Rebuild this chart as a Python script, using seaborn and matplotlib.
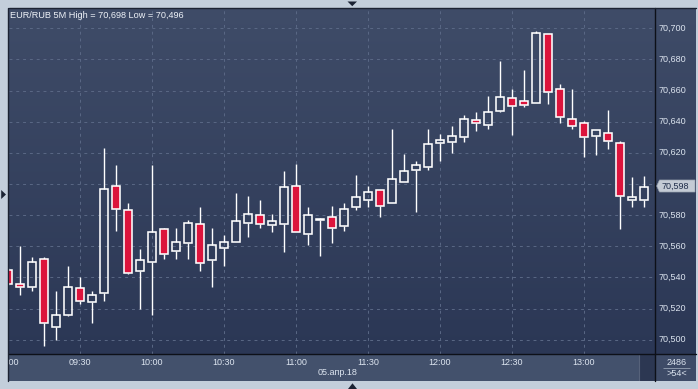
import numpy as np
import pandas as pd
import matplotlib
matplotlib.use("Agg")
import matplotlib.pyplot as plt
import seaborn as sns
from matplotlib.patches import Polygon, Rectangle
from matplotlib.colors import LinearSegmentedColormap
from matplotlib.transforms import blended_transform_factory

# ---------------- data (EUR/RUB, 5-minute candles, 05.04.2018) ----------------
opens = [70.545, 70.536, 70.534, 70.552, 70.508, 70.516, 70.533, 70.524, 70.530, 70.599,
         70.583, 70.544, 70.550, 70.571, 70.557, 70.562, 70.574, 70.551, 70.559, 70.563,
         70.575, 70.580, 70.5735, 70.574, 70.599, 70.568, 70.577, 70.579, 70.573, 70.585,
         70.590, 70.596, 70.588, 70.601, 70.609, 70.611, 70.626, 70.627, 70.630, 70.641,
         70.638, 70.647, 70.655, 70.653, 70.652, 70.696, 70.661, 70.642, 70.639, 70.631,
         70.633, 70.626, 70.590, 70.590]
highs = [70.546, 70.560, 70.553, 70.553, 70.531, 70.547, 70.540, 70.531, 70.623, 70.612,
         70.588, 70.558, 70.612, 70.572, 70.572, 70.577, 70.585, 70.572, 70.567, 70.594,
         70.592, 70.590, 70.581, 70.608, 70.613, 70.585, 70.578, 70.586, 70.588, 70.606,
         70.599, 70.596, 70.635, 70.619, 70.615, 70.635, 70.632, 70.637, 70.644, 70.646,
         70.6565, 70.679, 70.661, 70.673, 70.698, 70.696, 70.664, 70.661, 70.6405, 70.6345,
         70.6475, 70.6275, 70.6045, 70.605]
lows = [70.535, 70.529, 70.531, 70.496, 70.500, 70.515, 70.523, 70.511, 70.525, 70.570,
        70.542, 70.520, 70.516, 70.552, 70.552, 70.552, 70.544, 70.534, 70.547, 70.563,
        70.566, 70.572, 70.569, 70.556, 70.569, 70.561, 70.554, 70.562, 70.570, 70.583,
        70.585, 70.579, 70.588, 70.601, 70.582, 70.609, 70.615, 70.620, 70.627, 70.634,
        70.635, 70.646, 70.6315, 70.6495, 70.652, 70.6515, 70.639, 70.635, 70.617, 70.6185,
        70.6225, 70.571, 70.585, 70.585]
closes = [70.536, 70.534, 70.550, 70.511, 70.516, 70.534, 70.525, 70.529, 70.597, 70.584,
          70.543, 70.551, 70.569, 70.555, 70.563, 70.575, 70.549, 70.561, 70.563, 70.576,
          70.581, 70.574, 70.576, 70.598, 70.569, 70.580, 70.5775, 70.572, 70.584, 70.5915,
          70.595, 70.586, 70.603, 70.608, 70.612, 70.6255, 70.628, 70.631, 70.642, 70.639,
          70.646, 70.656, 70.650, 70.651, 70.697, 70.659, 70.643, 70.637, 70.630, 70.6345,
          70.6275, 70.592, 70.5915, 70.598]
times = pd.date_range("2018-04-05 09:00", periods=len(opens), freq="5min")
time_tick_labels = ["09:00", "09:30", "10:00", "10:30", "11:00", "11:30", "12:00", "12:30", "13:00"]
price_ticks = [70.50, 70.52, 70.54, 70.56, 70.58, 70.60, 70.62, 70.64, 70.66, 70.68, 70.70]
hidden_price_label = 70.60   # covered by the last-price marker
title_text = "EUR/RUB 5M High = 70,698 Low = 70,496"
date_text = "05.апр.18"
last_price = "70,598"
corner_top, corner_bottom = "2486", ">54<"

df = pd.DataFrame({"time": times, "open": opens, "high": highs, "low": lows, "close": closes})
df["pos"] = np.arange(len(df))
tick_pos = [df.index[df["time"].dt.strftime("%H:%M") == t][0] for t in time_tick_labels]

# ---------------- style ----------------
sns.set_style("dark")
plt.rcParams['font.family'] = ['Liberation Sans', 'DejaVu Sans']

W, H = 698, 389
BORDER = "#c3cedb"
GRID = "#5a6885"
TXT = "#dce4ef"

fig = plt.figure(figsize=(W / 100, H / 100), dpi=100, facecolor=BORDER)


def rect(x0, y0, x1, y1):
    return [x0 / W, 1 - y1 / H, (x1 - x0) / W, (y1 - y0) / H]


def P(x, y):
    return (x / W, 1 - y / H)


PL, PR, PT, PB, BB, RR = 8.7, 655.3, 8.0, 354.3, 381.0, 696.0
XLIM = (0.058, 53.94)
YLIM = (70.4906, 70.7130)

grad_cmap = LinearSegmentedColormap.from_list("bg", ["#2b3755", "#3f4c68"])
grad = np.linspace(0, 1, 256).reshape(-1, 1)

ax = fig.add_axes(rect(PL, PT, PR, PB))
ax.imshow(grad, extent=[0, 1, 0, 1], transform=ax.transAxes, aspect="auto",
          cmap=grad_cmap, origin="lower", zorder=0)
ax.set_xlim(*XLIM)
ax.set_ylim(*YLIM)
for s in ax.spines.values():
    s.set_visible(False)
ax.set_xticks([])
ax.set_yticks([])
ax.grid(False)

# dashed grid
ax.hlines(price_ticks, XLIM[0], XLIM[1], colors=GRID, linewidth=0.7,
          linestyles=(0, (3, 4)), zorder=1)
ax.vlines(tick_pos, YLIM[0], YLIM[1], colors=GRID, linewidth=0.7,
          linestyles=(0, (3, 4)), zorder=1)

# candles
up = df["close"] >= df["open"]
body_lo = np.minimum(df["open"], df["close"])
body_hi = np.maximum(df["open"], df["close"])
ax.vlines(df["pos"], df["low"], body_lo, colors="white", linewidth=1.0, zorder=2)
ax.vlines(df["pos"], body_hi, df["high"], colors="white", linewidth=1.0, zorder=2)
heights = np.maximum(body_hi - body_lo, 0.0004)
ax.bar(df["pos"][up], heights[up], bottom=body_lo[up], width=0.68,
       facecolor="none", edgecolor="white", linewidth=1.15, zorder=3)
ax.bar(df["pos"][~up], heights[~up], bottom=body_lo[~up], width=0.68,
       facecolor="#dc143c", edgecolor="white", linewidth=1.15, zorder=3)

fig.text(10 / W, 1 - 15 / H, title_text, color="#eef2f8", fontsize=6.6,
         ha="left", va="center")

# right price axis
axr = fig.add_axes(rect(PR, PT, RR, PB))
axr.imshow(grad, extent=[0, 1, 0, 1], transform=axr.transAxes, aspect="auto",
           cmap=grad_cmap, origin="lower", zorder=0)
axr.set_xlim(0, 1)
axr.set_ylim(*YLIM)
axr.set_xticks([])
axr.set_yticks([])
for s in axr.spines.values():
    s.set_visible(False)
tr = blended_transform_factory(axr.transAxes, axr.transData)
for v in price_ticks:
    if abs(v - hidden_price_label) < 1e-9:
        continue
    lab = f"{v:.3f}".replace(".", ",")
    axr.text(0.075, v, lab, transform=tr, color=TXT, fontsize=6.5,
             ha="left", va="center", zorder=2)

# bottom time axis
axb = fig.add_axes(rect(PL, PB, PR, BB))
axb.set_facecolor("#43516c")
axb.set_xlim(*XLIM)
axb.set_ylim(0, 1)
axb.set_xticks([])
axb.set_yticks([])
for s in axb.spines.values():
    s.set_visible(False)
for p, lab in zip(tick_pos, time_tick_labels):
    axb.text(p, 0.69, lab, color=TXT, fontsize=6.5, ha="center", va="center", clip_on=True)
axb.text(27.5, 0.30, date_text, color=TXT, fontsize=6.5, ha="center", va="center")
axb.add_patch(Rectangle((52.58, 0), XLIM[1] - 52.58, 1, facecolor="#2c3752",
                        edgecolor="none", zorder=2))
axb.vlines([52.6], 0, 1, colors="#56627a", linewidth=0.8, zorder=3)

# corner box
axc = fig.add_axes(rect(PR, PB, RR, BB))
axc.set_facecolor("#3e4b67")
axc.set_xlim(0, 1)
axc.set_ylim(0, 1)
axc.set_xticks([])
axc.set_yticks([])
for s in axc.spines.values():
    s.set_visible(False)
axc.text(0.53, 0.70, corner_top, color=TXT, fontsize=6.5, ha="center", va="center")
axc.hlines([0.5], 0.2, 0.85, colors="#8a96aa", linewidth=0.7)
axc.text(0.53, 0.27, corner_bottom, color=TXT, fontsize=6.5, ha="center", va="center")

# separators and frame
fig.add_artist(plt.Line2D([PR / W, PR / W], [1 - PT / H, 1 - BB / H], color="#0d1018", linewidth=1.0))
fig.add_artist(plt.Line2D([PL / W, RR / W], [1 - PB / H, 1 - PB / H], color="#0d1018", linewidth=1.0))
fig.add_artist(plt.Line2D([PL / W, RR / W], [1 - 7.6 / H, 1 - 7.6 / H], color="#1b2232", linewidth=1.0))
fig.add_artist(plt.Line2D([8.2 / W, 8.2 / W], [1 - 7.6 / H, 1 - BB / H], color="#1b2232", linewidth=1.0))

# last price label
fig.add_artist(Polygon([P(656.7, 186), P(659.5, 180), P(695, 180), P(695, 192), P(659.5, 192)],
                       closed=True, facecolor="#c4cbd5", edgecolor="#9aa3b0", linewidth=0.5,
                       transform=fig.transFigure, zorder=10))
fig.text(662 / W, 1 - 186 / H, last_price, color="#1f2d4a", fontsize=6.5,
         ha="left", va="center", zorder=11)

# navigation triangles
tri_col = "#1a2233"
fig.add_artist(Polygon([P(347.5, 1.5), P(357, 1.5), P(352.25, 6.2)], closed=True,
                       facecolor=tri_col, edgecolor="none", transform=fig.transFigure))
fig.add_artist(Polygon([P(348, 389), P(357, 389), P(352.5, 383.3)], closed=True,
                       facecolor=tri_col, edgecolor="none", transform=fig.transFigure))
fig.add_artist(Polygon([P(1.2, 190), P(1.2, 199), P(6, 194.5)], closed=True,
                       facecolor=tri_col, edgecolor="none", transform=fig.transFigure))

fig.savefig("out.png", dpi=100, facecolor=BORDER)
